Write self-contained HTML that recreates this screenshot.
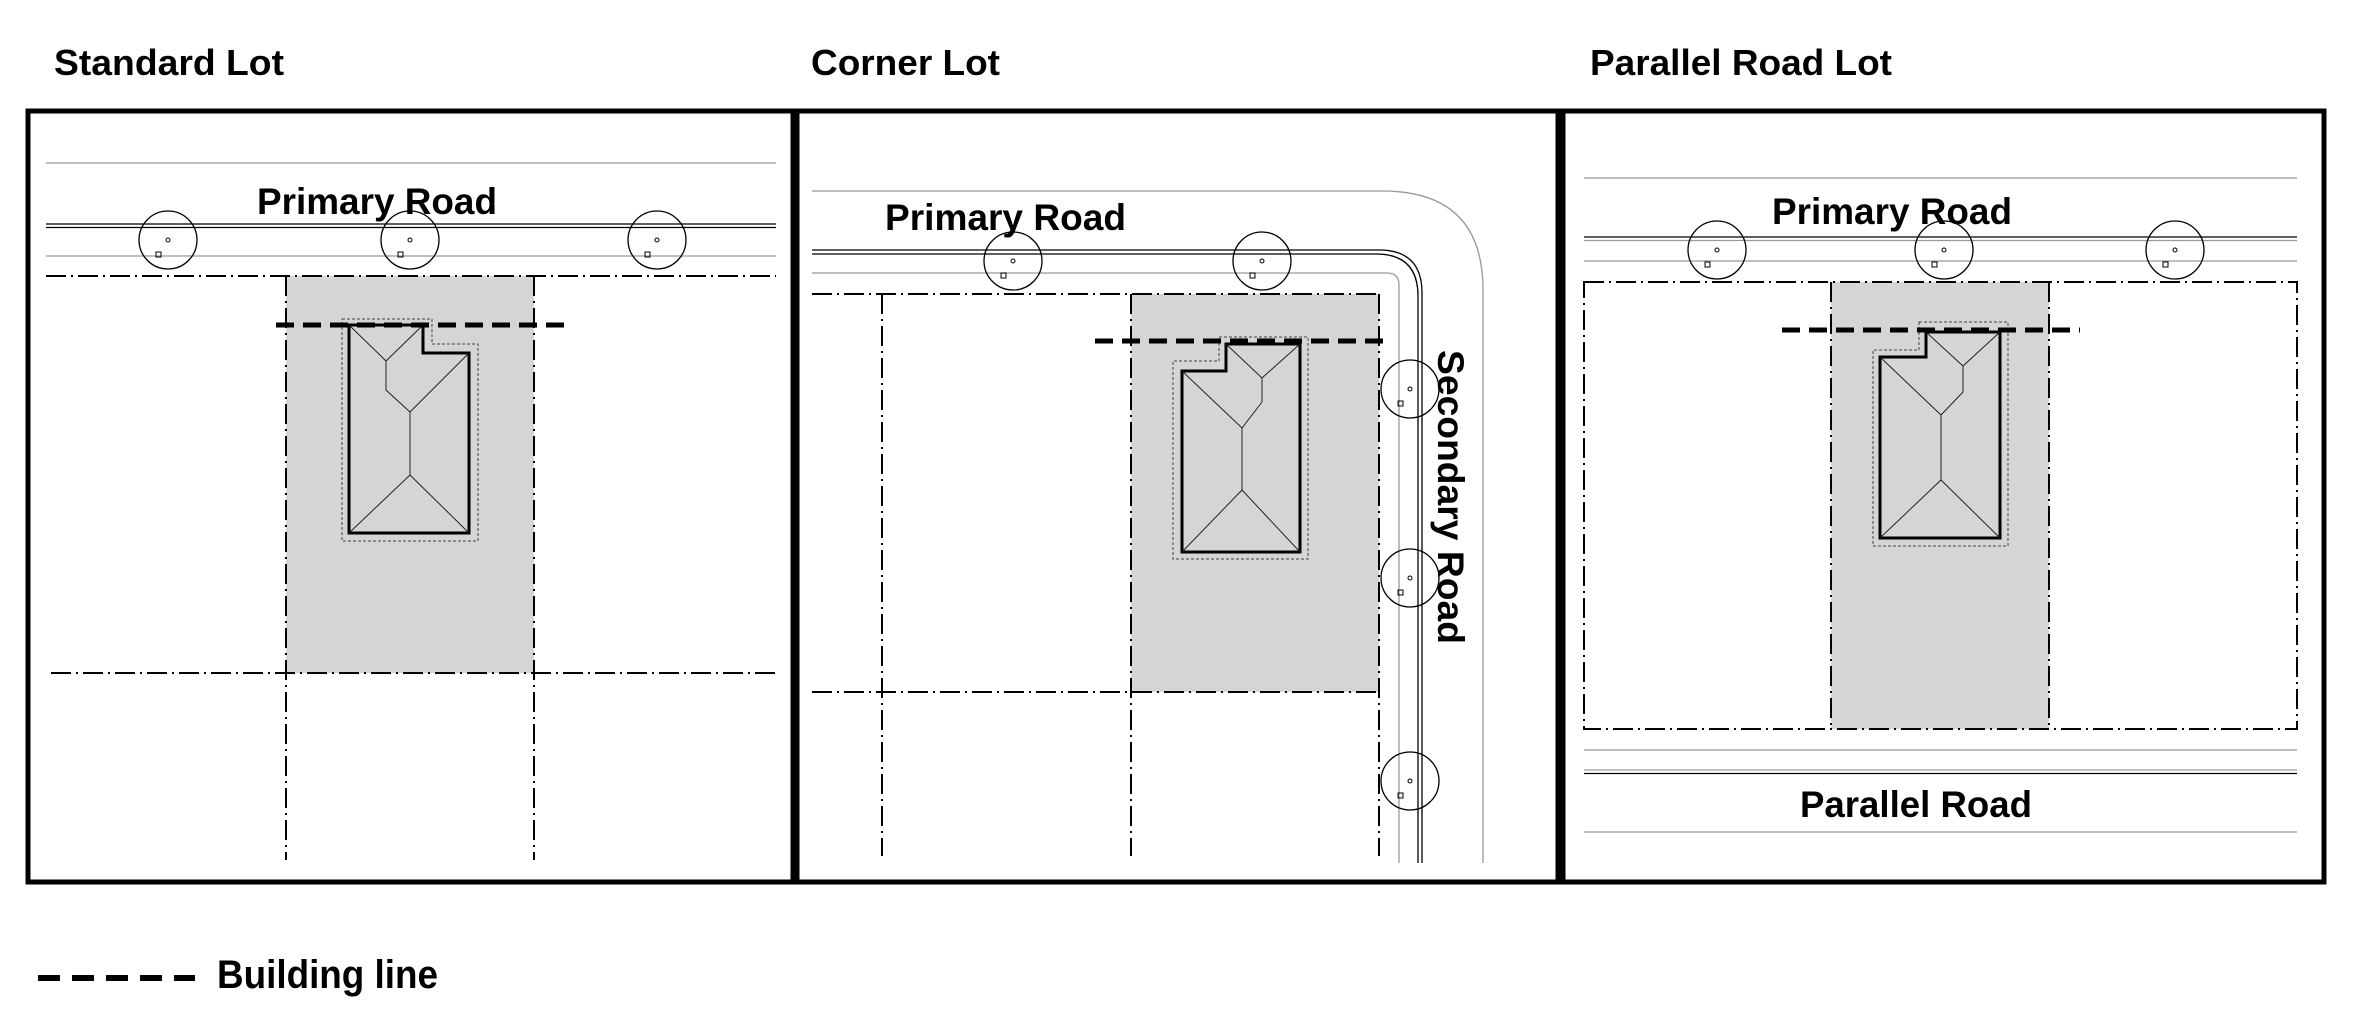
<!DOCTYPE html>
<html><head><meta charset="utf-8"><style>
html,body{margin:0;padding:0;background:#fff}
svg{display:block}
text{font-family:"Liberation Sans",sans-serif;font-weight:bold;fill:#000}
.dd{stroke:#000;stroke-width:2;stroke-dasharray:20 5 2 5;fill:none}
.g{stroke:#999;stroke-width:1.3;fill:none}
.k{stroke:#000;stroke-width:1.3;fill:none}
.bl{stroke:#000;stroke-width:5;stroke-dasharray:18 9;fill:none}
.hs{stroke:#000;stroke-width:3;fill:none}
.ho{stroke:#444;stroke-width:1;stroke-dasharray:3 2;fill:none}
.rf{stroke:#222;stroke-width:1;fill:none}
.tr{stroke:#000;stroke-width:1.3;fill:none}
.gr{fill:#d4d5d7}
.fr{fill:none;stroke:#000;stroke-width:5}
</style></head><body>
<svg width="2364" height="1023" viewBox="0 0 2364 1023" xmlns="http://www.w3.org/2000/svg">
<defs>
<g id="tree"><circle r="29" class="tr"/><circle r="2" fill="none" stroke="#000" stroke-width="1"/><rect x="-12" y="12" width="5" height="5" fill="none" stroke="#000" stroke-width="1"/></g>
</defs>

<text x="54" y="75" font-size="36" textLength="230" lengthAdjust="spacingAndGlyphs">Standard Lot</text>
<text x="811" y="75" font-size="36" textLength="189" lengthAdjust="spacingAndGlyphs">Corner Lot</text>
<text x="1590" y="75" font-size="36" textLength="302" lengthAdjust="spacingAndGlyphs">Parallel Road Lot</text>

<rect class="gr" x="286" y="276" width="248" height="397"/>
<line class="g" x1="46" y1="163" x2="776" y2="163"/>
<line class="k" x1="46" y1="224" x2="776" y2="224"/>
<line class="k" x1="46" y1="227.5" x2="776" y2="227.5"/>
<line class="g" x1="46" y1="256" x2="776" y2="256"/>
<text x="257" y="214" font-size="37" textLength="240" lengthAdjust="spacingAndGlyphs">Primary Road</text>
<use href="#tree" x="168" y="240"/><use href="#tree" x="410" y="240"/><use href="#tree" x="657" y="240"/>
<line class="dd" x1="46" y1="276" x2="776" y2="276"/>
<line class="dd" x1="51" y1="673" x2="776" y2="673"/>
<line class="dd" x1="286" y1="276" x2="286" y2="860"/>
<line class="dd" x1="534" y1="276" x2="534" y2="860"/>
<polygon class="ho" points="342,319 432,319 432,344 478,344 478,541 342,541"/>
<polygon class="hs" points="349,325 423,325 423,353 469,353 469,533 349,533"/>
<polyline class="rf" points="349,325 386,361 423,325"/>
<polyline class="rf" points="386,361 386,390 410,412 469,353"/>
<polyline class="rf" points="410,412 410,475 349,533"/>
<line class="rf" x1="410" y1="475" x2="469" y2="533"/>
<line class="bl" x1="276" y1="325" x2="570" y2="325"/>
<rect class="fr" x="28" y="111" width="765" height="771"/>

<rect class="gr" x="1131" y="294" width="248" height="398"/>
<path class="g" d="M812 191 H1382 Q1483 191 1483 290 V863"/>
<path class="k" d="M812 250 H1379 Q1422 250 1422 293 V863"/>
<path class="k" d="M812 254 H1376 Q1418 254 1418 296 V863"/>
<path class="g" d="M812 273 H1387 Q1399 273 1399 285 V863"/>
<text x="885" y="230" font-size="37" textLength="241" lengthAdjust="spacingAndGlyphs">Primary Road</text>
<text x="0" y="0" font-size="37" textLength="294" lengthAdjust="spacingAndGlyphs" transform="translate(1438,350) rotate(90)">Secondary Road</text>
<use href="#tree" x="1013" y="261"/><use href="#tree" x="1262" y="261"/>
<use href="#tree" x="1410" y="389"/><use href="#tree" x="1410" y="578"/><use href="#tree" x="1410" y="781"/>
<line class="dd" x1="812" y1="294" x2="1379" y2="294"/>
<line class="dd" x1="812" y1="692" x2="1379" y2="692"/>
<line class="dd" x1="882" y1="294" x2="882" y2="856"/>
<line class="dd" x1="1131" y1="294" x2="1131" y2="856"/>
<line class="dd" x1="1379" y1="294" x2="1379" y2="856"/>
<polygon class="ho" points="1219,337 1308,337 1308,559 1173,559 1173,361 1219,361"/>
<polygon class="hs" points="1226,344 1300,344 1300,552 1182,552 1182,371 1226,371"/>
<polyline class="rf" points="1182,371 1242,428 1262,402 1262,378 1300,344"/>
<line class="rf" x1="1226" y1="344" x2="1262" y2="378"/>
<polyline class="rf" points="1242,428 1242,490 1182,552"/>
<line class="rf" x1="1242" y1="490" x2="1300" y2="552"/>
<line class="bl" x1="1095" y1="341" x2="1391" y2="341"/>
<rect class="fr" x="797" y="111" width="761" height="771"/>

<rect class="gr" x="1831" y="282" width="218" height="447"/>
<line class="g" x1="1584" y1="178" x2="2297" y2="178"/>
<line class="k" x1="1584" y1="237" x2="2297" y2="237"/>
<line class="g" x1="1584" y1="240.5" x2="2297" y2="240.5"/>
<line class="g" x1="1584" y1="261" x2="2297" y2="261"/>
<text x="1772" y="224" font-size="37" textLength="240" lengthAdjust="spacingAndGlyphs">Primary Road</text>
<use href="#tree" x="1717" y="250"/><use href="#tree" x="1944" y="250"/><use href="#tree" x="2175" y="250"/>
<rect class="dd" x="1584" y="282" width="713" height="447"/>
<line class="dd" x1="1831" y1="282" x2="1831" y2="729"/>
<line class="dd" x1="2049" y1="282" x2="2049" y2="729"/>
<polygon class="ho" points="1919,322 2008,322 2008,546 1873,546 1873,350 1919,350"/>
<polygon class="hs" points="1926,332 2000,332 2000,538 1880,538 1880,357 1926,357"/>
<polyline class="rf" points="1880,357 1941,415 1963,392 1963,366 2000,332"/>
<line class="rf" x1="1926" y1="332" x2="1963" y2="366"/>
<polyline class="rf" points="1941,415 1941,480 1880,538"/>
<line class="rf" x1="1941" y1="480" x2="2000" y2="538"/>
<line class="bl" x1="1782" y1="330" x2="2080" y2="330"/>
<line class="g" x1="1584" y1="750" x2="2297" y2="750"/>
<line class="g" x1="1584" y1="770" x2="2297" y2="770"/>
<line class="k" x1="1584" y1="773.5" x2="2297" y2="773.5"/>
<line class="g" x1="1584" y1="832" x2="2297" y2="832"/>
<text x="1800" y="817" font-size="37" textLength="232" lengthAdjust="spacingAndGlyphs">Parallel Road</text>
<rect class="fr" x="1563" y="111" width="761" height="771"/>

<line x1="38" y1="978" x2="195" y2="978" stroke="#000" stroke-width="6" stroke-dasharray="22 12"/>
<text x="217" y="988" font-size="40" textLength="221" lengthAdjust="spacingAndGlyphs">Building line</text>
</svg>
</body></html>
